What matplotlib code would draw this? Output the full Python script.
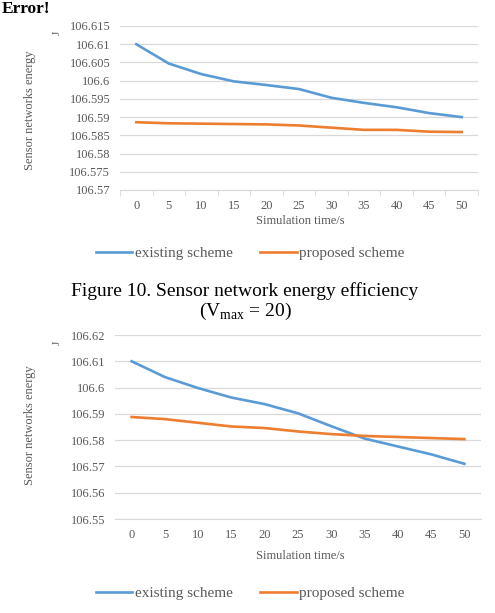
import matplotlib
matplotlib.use("Agg")
import matplotlib.pyplot as plt
from matplotlib.ticker import FixedLocator

plt.rcParams['font.family'] = ['Liberation Serif', 'DejaVu Serif']

# simulation time (s), one point every 5 s
time_s = [0, 5, 10, 15, 20, 25, 30, 35, 40, 45, 50]

# Vmax = 20 (upper chart), energy in J
existing_v20 = [106.6100, 106.6047, 106.6018, 106.5998, 106.5988, 106.5977,
                106.5953, 106.5939, 106.5927, 106.5911, 106.5900]
proposed_v20 = [106.5886, 106.5883, 106.5882, 106.5881, 106.5880, 106.5877,
                106.5871, 106.5865, 106.5865, 106.5860, 106.5859]

# lower chart
existing_low = [106.6100, 106.6040, 106.5998, 106.5962, 106.5937, 106.5902,
                106.5853, 106.5806, 106.5776, 106.5746, 106.5710]
proposed_low = [106.5888, 106.5880, 106.5866, 106.5852, 106.5846, 106.5833,
                106.5823, 106.5816, 106.5812, 106.5808, 106.5804]

top_yticks = [106.57, 106.575, 106.58, 106.585, 106.59, 106.595,
              106.6, 106.605, 106.61, 106.615]
top_ylabels = ['106.57', '106.575', '106.58', '106.585', '106.59', '106.595',
               '106.6', '106.605', '106.61', '106.615']
low_yticks = [106.55, 106.56, 106.57, 106.58, 106.59, 106.6, 106.61, 106.62]
low_ylabels = ['106.55', '106.56', '106.57', '106.58', '106.59', '106.6',
               '106.61', '106.62']

BLUE = '#5B9BD5'
ORANGE = '#ED7D31'
GRID = '#D9D9D9'
TXT = '#595959'

W, H = 495, 613
fig = plt.figure(figsize=(W / 100, H / 100), dpi=100)


def px_axes(left, top, right, bottom):
    return fig.add_axes([left / W, 1 - bottom / H, (right - left) / W, (bottom - top) / H])


def draw(ax, existing, proposed, yticks, ylabels, ymin, ymax, minor_ticks):
    ax.plot(time_s, existing, color=BLUE, lw=1.9, label='existing scheme')
    ax.plot(time_s, proposed, color=ORANGE, lw=1.9, label='proposed scheme')
    ax.set_xlim(-2.5, 52.5)
    ax.set_ylim(ymin, ymax)
    ax.set_xticks(time_s)
    ax.set_yticks(yticks)
    ax.set_yticklabels(ylabels)
    ax.grid(axis='y', color=GRID, lw=0.9)
    ax.set_axisbelow(True)
    for s in ['top', 'right', 'left']:
        ax.spines[s].set_visible(False)
    ax.spines['bottom'].set_color(GRID)
    ax.tick_params(axis='y', length=0, pad=7, labelsize=9, labelcolor=TXT)
    ax.tick_params(axis='x', which='major', length=0, pad=7, labelsize=9, labelcolor=TXT)
    if minor_ticks:
        ax.xaxis.set_minor_locator(FixedLocator([-2.5 + 5 * k for k in range(12)]))
        ax.tick_params(axis='x', which='minor', length=4, color=GRID)


ax1 = px_axes(120, 26, 478, 190)
draw(ax1, existing_v20, proposed_v20, top_yticks, top_ylabels, 106.57, 106.615, True)

ax2 = px_axes(115, 335, 481, 519)
draw(ax2, existing_low, proposed_low, low_yticks, low_ylabels, 106.55, 106.62, False)

# axis titles, placed like the scanned figure
for yc, yj, yx in [(110, 33, 221), (425, 343, 556)]:
    fig.text(30 / W, 1 - yc / H, 'Sensor networks energy', rotation=90,
             ha='center', va='center', fontsize=9, color=TXT)
    fig.text(57 / W, 1 - yj / H, 'J', rotation=90,
             ha='center', va='center', fontsize=8, color=TXT)
    fig.text(300 / W, 1 - yx / H, 'Simulation time/s',
             ha='center', va='center', fontsize=9, color=TXT)

for ax, ly in [(ax1, 253), (ax2, 593)]:
    leg = ax.legend(loc='center', bbox_to_anchor=(250 / W, 1 - ly / H),
                    bbox_transform=fig.transFigure, ncol=2, frameon=False,
                    fontsize=11, handlelength=2.4, handletextpad=0.15,
                    columnspacing=1.8)
    for t in leg.get_texts():
        t.set_color(TXT)

fig.text(2 / W, 1 - 1 / H, 'Error!', ha='left', va='top',
         fontsize=12.5, fontweight='bold', color='black')
fig.text(245 / W, 1 - 291 / H, 'Figure 10. Sensor network energy efficiency',
         ha='center', va='center', fontsize=14, color='black')
fig.text(245 / W, 1 - 311 / H, r'(V$_{\mathregular{max}}$ = 20)',
         ha='center', va='center', fontsize=14, color='black')

fig.savefig('out.png', dpi=100)
